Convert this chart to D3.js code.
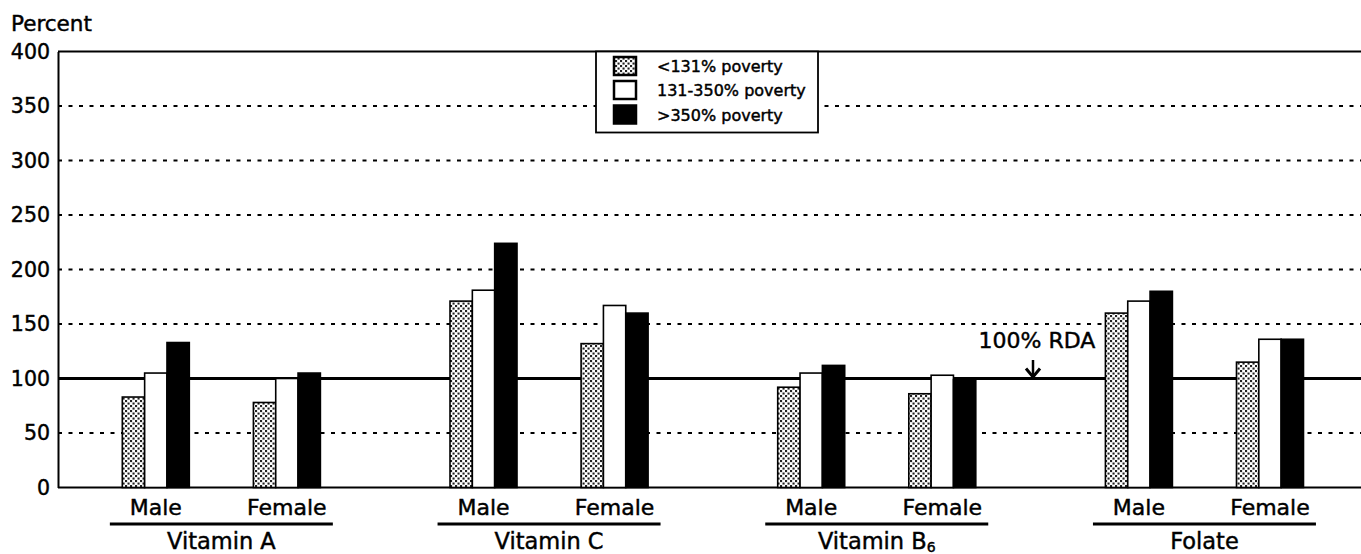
<!DOCTYPE html>
<html>
<head>
<meta charset="utf-8">
<script src="https://cdn.jsdelivr.net/npm/d3@7"></script>
<style>
  html, body { margin: 0; padding: 0; background: #fff; }
  svg text { font-family: "DejaVu Sans", sans-serif; fill: #000; stroke: #000; stroke-width: 0.45px; }
</style>
</head>
<body>
<svg id="chart" width="1361" height="554"></svg>
<script>
// Nutrient groups, sexes within each group, and income series
const nutrients = ["Vitamin A", "Vitamin C", "Vitamin B6", "Folate"];
const sexes = ["Male", "Female"];
const seriesNames = ["<131% poverty", "131-350% poverty", ">350% poverty"];

// Percent of RDA, one array per income series, ordered nutrient x sex
const belowPoverty  = [83, 78, 171, 132, 92, 86, 160, 115];
const middleIncome  = [105, 100, 181, 167, 105, 103, 171, 136];
const upperIncome   = [133, 105, 224, 160, 112, 99, 180, 136];

const yTicks = [0, 50, 100, 150, 200, 250, 300, 350, 400];
const dashedTicks = [50, 150, 200, 250, 300, 350];
const rdaValue = 100;

const svg = d3.select("#chart");
const plotLeft = 58, plotRight = 1361, plotTop = 51.5, plotBottom = 487.5;

const y = d3.scaleLinear().domain([0, 400]).range([plotBottom, plotTop]);
const xGroup = d3.scaleBand().domain(nutrients).range([57.5, 57.5 + 4 * 327.7]).padding(0);
const xSex = d3.scalePoint().domain(sexes).range([0, xGroup.bandwidth()]).padding(0.75);
const xSeries = d3.scaleBand().domain(seriesNames).range([-33.5, 33.5]).padding(0);

// Stipple fill for the lowest-income series
const defs = svg.append("defs");
const pat = defs.append("pattern")
  .attr("id", "stipple").attr("patternUnits", "userSpaceOnUse")
  .attr("width", 5).attr("height", 5);
pat.append("rect").attr("width", 5).attr("height", 5).attr("fill", "#fff");
pat.append("rect").attr("x", 0).attr("y", 0).attr("width", 2.1).attr("height", 2.1).attr("fill", "#222");
pat.append("rect").attr("x", 2.5).attr("y", 2.5).attr("width", 2.1).attr("height", 2.1).attr("fill", "#222");

const fills = { "<131% poverty": "url(#stipple)", "131-350% poverty": "#fff", ">350% poverty": "#000" };

// Dashed gridlines
svg.append("g").selectAll("line").data(dashedTicks).join("line")
  .attr("x1", plotLeft).attr("x2", plotRight)
  .attr("y1", d => y(d)).attr("y2", d => y(d))
  .attr("stroke", "#000").attr("stroke-width", 2).attr("stroke-dasharray", "4,6.5");

// Top frame line and baseline
svg.append("line").attr("x1", plotLeft).attr("x2", plotRight).attr("y1", y(400)).attr("y2", y(400))
  .attr("stroke", "#000").attr("stroke-width", 2);
svg.append("line").attr("x1", plotLeft).attr("x2", plotRight).attr("y1", y(0)).attr("y2", y(0))
  .attr("stroke", "#000").attr("stroke-width", 2);

// 100% RDA reference line
svg.append("line").attr("x1", plotLeft).attr("x2", plotRight).attr("y1", y(rdaValue)).attr("y2", y(rdaValue))
  .attr("stroke", "#000").attr("stroke-width", 3);

// Y axis
const yAxis = d3.axisLeft(y).tickValues(yTicks).tickSize(0).tickPadding(8).tickFormat(d3.format("d"));
const gy = svg.append("g").attr("transform", `translate(${plotLeft},0)`).call(yAxis);
gy.select(".domain").attr("stroke", "#000").attr("stroke-width", 2);
gy.selectAll("text").style("font-family", "DejaVu Sans, sans-serif").style("font-size", "20.5px")
  .attr("fill", "#000").attr("stroke", "#000").attr("stroke-width", 0.45);

svg.append("text").attr("x", 11).attr("y", 31).style("font-size", "21.5px").text("Percent");

// Bars
const rows = [];
nutrients.forEach((n, gi) => {
  sexes.forEach((s, si) => {
    const idx = gi * 2 + si;
    [belowPoverty, middleIncome, upperIncome].forEach((arr, k) => {
      rows.push({ nutrient: n, sex: s, series: seriesNames[k], value: arr[idx] });
    });
  });
});

svg.append("g").selectAll("rect").data(rows).join("rect")
  .attr("x", d => xGroup(d.nutrient) + xSex(d.sex) + xSeries(d.series))
  .attr("width", xSeries.bandwidth())
  .attr("y", d => y(d.value))
  .attr("height", d => y(0) - y(d.value))
  .attr("fill", d => fills[d.series])
  .attr("stroke", "#000").attr("stroke-width", 1.6);

// Sex labels under each cluster
svg.append("g").selectAll("text").data(d3.cross(nutrients, sexes)).join("text")
  .attr("x", d => xGroup(d[0]) + xSex(d[1]))
  .attr("y", 515)
  .attr("text-anchor", "middle")
  .style("font-size", "22px")
  .text(d => d[1]);

// Group underline and nutrient name
const gNames = svg.append("g").selectAll("g").data(nutrients).join("g")
  .attr("transform", d => `translate(${xGroup(d) + xGroup.bandwidth() / 2},0)`);
gNames.append("rect").attr("x", -111.5).attr("width", 223).attr("y", 522.5).attr("height", 3).attr("fill", "#000");
gNames.append("text").attr("y", 549).attr("text-anchor", "middle").style("font-size", "22.5px")
  .each(function (d) {
    const t = d3.select(this);
    if (d === "Vitamin B6") {
      t.append("tspan").text("Vitamin B");
      t.append("tspan").attr("dy", 3).style("font-size", "14px").text("6");
    } else {
      t.text(d);
    }
  });

// RDA annotation with arrow
svg.append("text").attr("x", 1037).attr("y", 348).attr("text-anchor", "middle")
  .style("font-size", "22px").text("100% RDA");
const ax = 1033, ay = y(rdaValue);
svg.append("line").attr("x1", ax).attr("x2", ax).attr("y1", 360).attr("y2", ay - 1)
  .attr("stroke", "#000").attr("stroke-width", 2.5);
svg.append("path").attr("d", `M${ax - 7},${ay - 10} L${ax},${ay - 1.5} L${ax + 7},${ay - 10}`)
  .attr("fill", "none").attr("stroke", "#000").attr("stroke-width", 3);

// Legend
const lg = svg.append("g");
lg.append("rect").attr("x", 596).attr("y", y(400)).attr("width", 222).attr("height", 132.5 - y(400))
  .attr("fill", "#fff").attr("stroke", "#000").attr("stroke-width", 1.8);
const rowY = [66, 90, 114.5];
seriesNames.forEach((s, i) => {
  lg.append("rect").attr("x", 614).attr("y", rowY[i] - 9).attr("width", 22).attr("height", 18)
    .attr("fill", fills[s]).attr("stroke", "#000").attr("stroke-width", 2.5);
  lg.append("text").attr("x", 657).attr("y", rowY[i] + 6).style("font-size", "16px").text(s);
});
</script>
</body>
</html>
